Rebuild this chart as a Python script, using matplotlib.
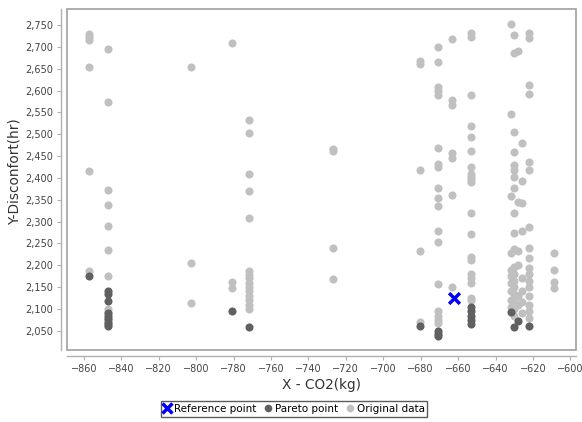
import matplotlib
matplotlib.use("Agg")
import matplotlib.pyplot as plt
from matplotlib.patches import Rectangle
from matplotlib.lines import Line2D
from matplotlib.ticker import FuncFormatter, MultipleLocator

# original data (light grey), one line per column of points
orig_x = [
    -857, -857, -857, -857, -857, -857,
    -847, -847, -847, -847, -847, -847, -847, -847, -847, -847,
    -802.5, -802.5, -802.5,
    -781, -781, -781,
    -771.5, -771.5, -771.5, -771.5, -771.5, -771.5, -771.5, -771.5, -771.5, -771.5, -771.5, -771.5, -771.5, -771.5, -771.5,
    -727, -727, -727, -727,
    -680.5, -680.5, -680.5, -680.5, -680.5,
    -670.5, -670.5, -670.5, -670.5, -670.5, -670.5, -670.5, -670.5, -670.5, -670.5, -670.5, -670.5, -670.5, -670.5, -670.5, -670.5, -670.5, -670.5,
    -663.5, -663.5, -663.5, -663.5, -663.5, -663.5, -663.5,
    -653, -653, -653, -653, -653, -653, -653, -653, -653, -653, -653, -653, -653, -653, -653, -653, -653, -653, -653, -653,
    -632, -632, -632, -632, -632, -632, -632, -632, -632, -632,
    -630, -630, -630, -630, -630, -630, -630, -630, -630, -630, -630, -630, -630, -630, -630, -630, -630, -630, -630,
    -628, -628, -628, -628, -628, -628,
    -626, -626, -626, -626, -626, -626, -626, -626,
    -622, -622, -622, -622, -622, -622, -622, -622, -622, -622, -622, -622, -622, -622, -622, -622, -622,
    -609, -609, -609, -609,
]
orig_y = [
    2730, 2722, 2716, 2654, 2416, 2186,
    2695, 2574, 2372, 2338, 2290, 2235, 2176, 2100, 2094, 2080,
    2654, 2205, 2114,
    2709, 2162, 2148,
    2533, 2503, 2409, 2370, 2308, 2186, 2178, 2170, 2160, 2150, 2140, 2130, 2120, 2110, 2100,
    2466, 2461, 2240, 2169,
    2668, 2661, 2418, 2233, 2070,
    2700, 2665, 2608, 2600, 2590, 2468, 2432, 2425, 2378, 2354, 2336, 2278, 2253, 2157, 2095, 2085, 2075, 2068,
    2718, 2578, 2568, 2457, 2446, 2361, 2150,
    2732, 2723, 2590, 2519, 2494, 2462, 2425, 2410, 2403, 2397, 2390, 2320, 2272, 2219, 2212, 2180, 2170, 2160, 2125, 2120,
    2752, 2546, 2359, 2228, 2190, 2175, 2160, 2140, 2120, 2105,
    2727, 2686, 2505, 2460, 2430, 2418, 2402, 2377, 2320, 2274, 2237, 2195, 2180, 2165, 2150, 2135, 2120, 2100, 2085,
    2690, 2345, 2232, 2200, 2130, 2110,
    2480, 2393, 2343, 2279, 2170, 2140, 2115, 2090,
    2732, 2720, 2613, 2592, 2437, 2418, 2288, 2240, 2217, 2194, 2180, 2165, 2150, 2130, 2110, 2095, 2080,
    2228, 2189, 2162, 2148,
]

# pareto points (dark grey)
pareto_x = [
    -857,
    -847, -847, -847, -847, -847, -847, -847, -847, -847,
    -781, -771.5, -680.5,
    -670.5, -670.5, -670.5,
    -653, -653, -653, -653, -653,
    -632, -628, -630, -622,
]
pareto_y = [
    2176,
    2142, 2135, 2118, 2090, 2083, 2077, 2070, 2065, 2061,
    2096, 2059, 2061,
    2050, 2043, 2038,
    2105, 2095, 2085, 2075, 2066,
    2093, 2073, 2059, 2061,
]

ref_x = [-662.3]
ref_y = [2125]

light = "#c0c0c0"
dark = "#606060"
txt = "#444444"

fig = plt.figure(figsize=(5.82, 4.22), dpi=100)
ax = fig.add_axes([67 / 582, 1 - 350 / 422, (576 - 67) / 582, (350 - 9) / 422])

ax.scatter(orig_x, orig_y, s=34, c=light, linewidths=0, zorder=2)
ax.scatter(pareto_x, pareto_y, s=34, c=dark, linewidths=0, zorder=3)
ax.scatter(ref_x, ref_y, s=60, c="#0000ff", marker="x", linewidths=2.5, zorder=4)

ax.set_xlim(-869, -597)
ax.set_ylim(2006, 2787)
ax.xaxis.set_major_locator(MultipleLocator(20))
ax.yaxis.set_major_locator(MultipleLocator(50))
ax.yaxis.set_major_formatter(FuncFormatter(lambda v, p: f"{v:,.0f}"))

# axis lines sit a little outside the plot outline
for s in ["top", "right"]:
    ax.spines[s].set_visible(False)
for s in ["left", "bottom"]:
    ax.spines[s].set_position(("outward", 4))
    ax.spines[s].set_color("#b0b0b0")
    ax.spines[s].set_linewidth(1)
ax.add_patch(Rectangle((0, 0), 1, 1, transform=ax.transAxes, fill=False,
                       edgecolor="#a0a0a0", linewidth=1.2, clip_on=False, zorder=5))

ax.tick_params(direction="out", length=3, width=0.8, color="#b0b0b0",
               labelsize=7.0, labelcolor=txt, pad=3)
ax.set_xlabel("X - CO2(kg)", fontsize=9.8, color="#333333", labelpad=3)
ax.set_ylabel("Y-Disconfort(hr)", fontsize=9.8, color="#333333")
ax.yaxis.set_label_coords(-0.09, 0.522)

handles = [
    Line2D([], [], marker="x", color="#0000ff", linestyle="", markersize=7, markeredgewidth=2.5),
    Line2D([], [], marker="o", color=dark, linestyle="", markersize=5.5, markeredgewidth=0),
    Line2D([], [], marker="o", color=light, linestyle="", markersize=5.5, markeredgewidth=0),
]
leg = fig.legend(handles, ["Reference point", "Pareto point", "Original data"],
                 loc="center", bbox_to_anchor=(0.505, 1 - 409 / 422), ncol=3,
                 fontsize=7.5, frameon=True, fancybox=False, handlelength=0.8,
                 handletextpad=0.2, columnspacing=0.8, borderpad=0.25)
leg.get_frame().set_edgecolor("#333333")
leg.get_frame().set_linewidth(1)

fig.savefig("out.png", dpi=100)
